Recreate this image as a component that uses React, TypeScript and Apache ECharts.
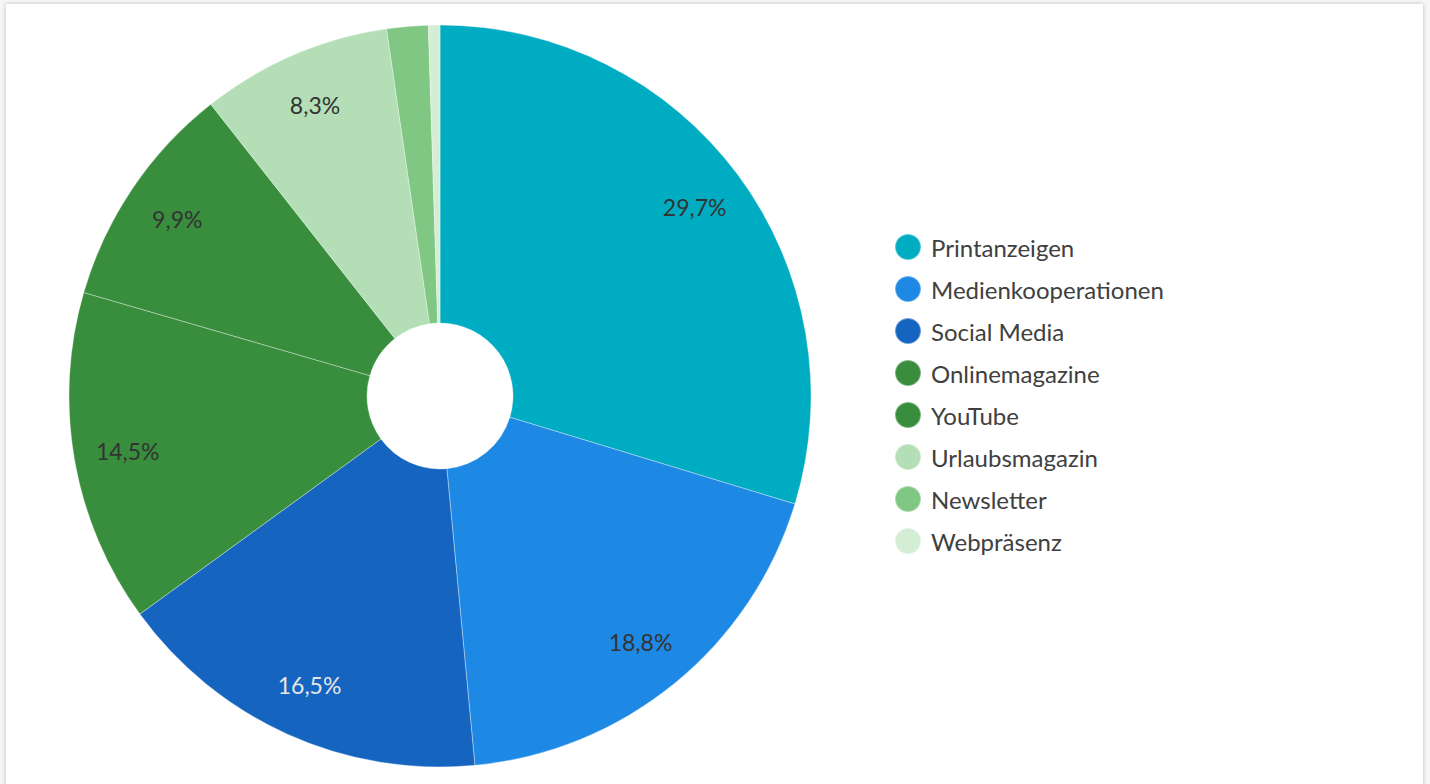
import React, { useEffect, useRef } from "react";
import * as echarts from "echarts";

const categories = [
  "Printanzeigen",
  "Medienkooperationen",
  "Social Media",
  "Onlinemagazine",
  "YouTube",
  "Urlaubsmagazin",
  "Newsletter",
  "Webpräsenz",
];
const values = [29.7, 18.8, 16.5, 14.5, 9.9, 8.3, 1.8, 0.5];
const colors = ["#00ACC1", "#1E88E5", "#1565C0", "#388E3C", "#388E3C", "#B4DEB6", "#81C784", "#D3EED4"];
const labelColors = ["#333", "#333", "#E6E6E6", "#333", "#333", "#333", "#333", "#333"];
const showLabel = [true, true, true, true, true, true, false, false];

const FONT = "Lato, 'Noto Sans', sans-serif";

export default function App() {
  const ref = useRef<HTMLDivElement>(null);
  useEffect(() => {
    if (!ref.current) return;
    const chart = echarts.init(ref.current, null, { renderer: "svg" });
    const fmt = (v: number) => v.toFixed(1).replace(".", ",") + "%";
    chart.setOption({
      animation: false,
      color: colors,
      legend: {
        orient: "vertical",
        left: 883,
        top: 224,
        icon: "circle",
        itemWidth: 26,
        itemHeight: 26,
        itemGap: 14,
        data: categories,
        textStyle: { fontFamily: FONT, fontSize: 24, lineHeight: 26, color: "#404040", padding: [0, 0, 0, 5] },
      },
      series: [
        {
          type: "pie",
          name: "main",
          center: [434, 392],
          radius: [73, 371],
          startAngle: 90,
          clockwise: true,
          label: { show: false },
          labelLine: { show: false },
          itemStyle: { borderColor: "rgba(255,255,255,0.35)", borderWidth: 1 },
          emphasis: { disabled: true },
          data: categories.map((n, i) => ({ name: n, value: values[i], itemStyle: { color: colors[i] } })),
        },
        {
          type: "pie",
          name: "labels",
          center: [434, 392],
          radius: [257, 371],
          startAngle: 90,
          clockwise: true,
          silent: true,
          labelLine: { show: false },
          emphasis: { disabled: true },
          itemStyle: { color: "rgba(0,0,0,0)", borderWidth: 0 },
          data: categories.map((n, i) => ({
            name: n,
            value: values[i],
            itemStyle: { color: "rgba(0,0,0,0)" },
            label: {
              show: showLabel[i],
              position: "inside",
              formatter: fmt(values[i]),
              color: labelColors[i],
              fontFamily: FONT,
              fontSize: 23,
            },
          })),
        },
      ],
    });
    return () => chart.dispose();
  }, []);
  return (
    <div style={{ position: "fixed", left: 0, top: 0, width: 1430, height: 784, background: "#f6f6f6", overflow: "hidden" }}>
      <div
        style={{
          position: "absolute",
          left: 6,
          top: 4,
          width: 1417,
          height: 800,
          background: "#fff",
          boxShadow: "0 0 4px rgba(0,0,0,0.25)",
        }}
      >
        <div ref={ref} style={{ width: 1417, height: 780 }} />
      </div>
    </div>
  );
}
